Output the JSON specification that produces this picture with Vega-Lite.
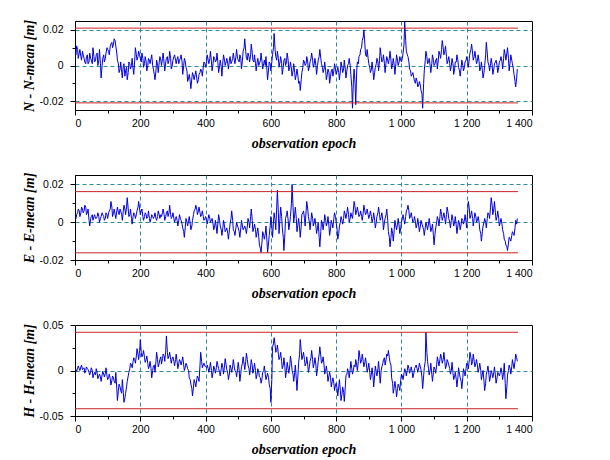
{
"$schema": "https://vega.github.io/schema/vega-lite/v6.json",
"background": "white",
"padding": {"left": 21, "top": 18, "right": 5, "bottom": 5},
"config": {
  "view": {"stroke": "black", "strokeWidth": 1},
  "axis": {"labelFont": "Liberation Sans", "labelFontSize": 10.5, "labelColor": "black", "titleFont": "Liberation Serif", "titleFontSize": 14, "titleFontStyle": "italic", "titleFontWeight": "bold", "titleColor": "black", "domainColor": "black", "tickColor": "black", "gridColor": "#2e8b9a", "gridDash": [4, 3], "gridWidth": 1}
},
"datasets": {
  "obs": [
{"t":0,"n":0.008,"e":0.001,"h":0.002},{"t":5,"n":0.011,"e":0.004,"h":-0.001},{"t":10,"n":0.004,"e":0.007,"h":0.005},{"t":15,"n":0.009,"e":0.003,"h":0.0},{"t":20,"n":0.003,"e":0.008,"h":0.006},{"t":25,"n":0.006,"e":0.005,"h":0.002},{"t":30,"n":0.002,"e":0.009,"h":-0.003},{"t":35,"n":0.005,"e":0.004,"h":0.004},{"t":40,"n":0.001,"e":0.007,"h":0.001},{"t":45,"n":0.007,"e":-0.002,"h":-0.005},
{"t":50,"n":0.003,"e":0.003,"h":0.003},{"t":55,"n":0.010,"e":0.001,"h":-0.008},{"t":60,"n":0.002,"e":0.004,"h":-0.002},{"t":65,"n":0.006,"e":0.002,"h":0.002},{"t":70,"n":0.0,"e":0.005,"h":-0.009},{"t":75,"n":0.009,"e":0.0,"h":-0.004},{"t":80,"n":-0.007,"e":0.003,"h":-0.012},{"t":85,"n":0.004,"e":0.004,"h":-0.001},{"t":90,"n":0.002,"e":0.001,"h":-0.007},{"t":95,"n":0.007,"e":0.005,"h":0.003},
{"t":100,"n":0.009,"e":0.002,"h":-0.010},{"t":105,"n":0.006,"e":0.006,"h":-0.004},{"t":110,"n":0.012,"e":0.011,"h":-0.016},{"t":115,"n":0.010,"e":0.003,"h":-0.006},{"t":120,"n":0.015,"e":0.007,"h":-0.012},{"t":125,"n":0.011,"e":0.002,"h":-0.002},{"t":130,"n":0.003,"e":0.008,"h":-0.033},{"t":135,"n":-0.004,"e":0.004,"h":-0.015},{"t":140,"n":0.002,"e":0.006,"h":-0.022},{"t":145,"n":-0.007,"e":0.001,"h":-0.010},
{"t":150,"n":0.001,"e":0.009,"h":-0.035},{"t":155,"n":-0.003,"e":0.004,"h":-0.025},{"t":160,"n":-0.008,"e":0.013,"h":-0.012},{"t":165,"n":0.002,"e":0.003,"h":-0.002},{"t":170,"n":-0.002,"e":0.007,"h":0.008},{"t":175,"n":0.004,"e":-0.001,"h":0.003},{"t":180,"n":-0.005,"e":0.005,"h":0.014},{"t":185,"n":0.010,"e":0.002,"h":0.008},{"t":190,"n":0.003,"e":0.006,"h":0.024},{"t":195,"n":0.008,"e":0.011,"h":0.012},
{"t":200,"n":0.004,"e":0.004,"h":0.034},{"t":205,"n":0.007,"e":0.007,"h":0.015},{"t":210,"n":-0.001,"e":0.001,"h":0.022},{"t":215,"n":0.005,"e":0.005,"h":0.009},{"t":220,"n":-0.003,"e":0.002,"h":0.016},{"t":225,"n":0.004,"e":0.006,"h":0.002},{"t":230,"n":0.001,"e":0.0,"h":0.010},{"t":235,"n":0.006,"e":0.004,"h":-0.008},{"t":240,"n":-0.002,"e":0.002,"h":0.005},{"t":245,"n":-0.008,"e":0.005,"h":-0.002},
{"t":250,"n":0.003,"e":0.001,"h":0.020},{"t":255,"n":-0.004,"e":0.006,"h":0.004},{"t":260,"n":0.005,"e":0.002,"h":0.012},{"t":265,"n":0.0,"e":0.003,"h":0.007},{"t":270,"n":0.007,"e":0.007,"h":0.018},{"t":275,"n":-0.003,"e":0.001,"h":0.010},{"t":280,"n":0.004,"e":0.005,"h":0.038},{"t":285,"n":0.001,"e":0.003,"h":0.013},{"t":290,"n":0.008,"e":0.009,"h":0.020},{"t":295,"n":-0.002,"e":0.002,"h":0.008},
{"t":300,"n":0.003,"e":0.005,"h":0.015},{"t":305,"n":0.006,"e":0.0,"h":0.005},{"t":310,"n":0.001,"e":0.003,"h":0.018},{"t":315,"n":0.005,"e":-0.002,"h":0.002},{"t":320,"n":0.003,"e":0.004,"h":0.012},{"t":325,"n":0.006,"e":0.001,"h":0.006},{"t":330,"n":-0.005,"e":-0.003,"h":0.015},{"t":335,"n":0.004,"e":-0.008,"h":0.0},{"t":340,"n":-0.001,"e":0.002,"h":0.008},{"t":345,"n":-0.009,"e":-0.002,"h":0.002},
{"t":350,"n":-0.005,"e":0.003,"h":-0.008},{"t":355,"n":-0.013,"e":-0.004,"h":-0.015},{"t":360,"n":-0.004,"e":0.001,"h":-0.028},{"t":365,"n":-0.008,"e":0.006,"h":-0.010},{"t":370,"n":-0.003,"e":0.009,"h":-0.018},{"t":375,"n":-0.010,"e":0.004,"h":-0.006},{"t":380,"n":-0.005,"e":0.008,"h":-0.012},{"t":385,"n":-0.002,"e":0.003,"h":0.020},{"t":390,"n":-0.006,"e":0.006,"h":0.003},{"t":395,"n":0.002,"e":0.001,"h":0.008},
{"t":400,"n":-0.001,"e":0.003,"h":0.004},{"t":405,"n":0.006,"e":-0.001,"h":0.006},{"t":410,"n":0.001,"e":0.004,"h":-0.002},{"t":415,"n":0.008,"e":0.0,"h":0.009},{"t":420,"n":-0.003,"e":0.002,"h":-0.008},{"t":425,"n":0.005,"e":-0.004,"h":0.005},{"t":430,"n":0.002,"e":0.001,"h":-0.003},{"t":435,"n":0.007,"e":-0.006,"h":0.010},{"t":440,"n":-0.004,"e":0.004,"h":0.002},{"t":445,"n":0.003,"e":-0.002,"h":-0.006},
{"t":450,"n":-0.006,"e":-0.007,"h":0.008},{"t":455,"n":0.006,"e":0.001,"h":-0.004},{"t":460,"n":0.0,"e":-0.005,"h":0.013},{"t":465,"n":0.004,"e":-0.003,"h":0.001},{"t":470,"n":-0.002,"e":-0.009,"h":-0.010},{"t":475,"n":0.005,"e":-0.001,"h":0.006},{"t":480,"n":0.002,"e":0.006,"h":-0.002},{"t":485,"n":0.007,"e":-0.004,"h":0.012},{"t":490,"n":0.001,"e":-0.007,"h":0.0},{"t":495,"n":0.009,"e":0.0,"h":-0.007},
{"t":500,"n":0.003,"e":-0.003,"h":0.009},{"t":505,"n":0.006,"e":-0.008,"h":-0.012},{"t":510,"n":-0.002,"e":0.001,"h":0.004},{"t":515,"n":0.008,"e":-0.004,"h":0.015},{"t":520,"n":0.015,"e":-0.002,"h":0.001},{"t":525,"n":0.004,"e":-0.006,"h":0.019},{"t":530,"n":0.007,"e":0.002,"h":0.006},{"t":535,"n":0.002,"e":-0.003,"h":-0.005},{"t":540,"n":0.012,"e":0.007,"h":0.012},{"t":545,"n":0.003,"e":-0.005,"h":-0.003},
{"t":550,"n":0.006,"e":-0.001,"h":0.008},{"t":555,"n":-0.003,"e":-0.008,"h":-0.009},{"t":560,"n":0.004,"e":-0.003,"h":0.002},{"t":565,"n":0.001,"e":-0.012,"h":-0.007},{"t":570,"n":0.007,"e":-0.016,"h":-0.014},{"t":575,"n":-0.002,"e":-0.005,"h":-0.002},{"t":580,"n":0.003,"e":-0.009,"h":0.005},{"t":585,"n":0.005,"e":-0.002,"h":-0.010},{"t":590,"n":-0.008,"e":-0.016,"h":-0.003},{"t":595,"n":0.002,"e":-0.007,"h":-0.015},
{"t":600,"n":-0.003,"e":0.003,"h":-0.035},{"t":605,"n":0.006,"e":-0.008,"h":0.025},{"t":610,"n":0.018,"e":0.005,"h":0.036},{"t":615,"n":0.005,"e":-0.004,"h":0.020},{"t":620,"n":0.008,"e":0.017,"h":0.028},{"t":625,"n":-0.001,"e":-0.006,"h":0.012},{"t":630,"n":0.005,"e":0.008,"h":0.020},{"t":635,"n":-0.005,"e":-0.003,"h":0.002},{"t":640,"n":0.003,"e":-0.015,"h":0.014},{"t":645,"n":0.0,"e":0.002,"h":-0.008},
{"t":650,"n":0.007,"e":0.006,"h":0.009},{"t":655,"n":-0.003,"e":-0.004,"h":-0.003},{"t":660,"n":0.002,"e":0.003,"h":0.016},{"t":665,"n":-0.006,"e":0.020,"h":0.0},{"t":670,"n":0.001,"e":0.0,"h":-0.012},{"t":675,"n":-0.008,"e":0.008,"h":0.006},{"t":680,"n":-0.002,"e":-0.005,"h":-0.022},{"t":685,"n":-0.010,"e":0.002,"h":0.008},{"t":690,"n":-0.014,"e":-0.008,"h":0.034},{"t":695,"n":-0.004,"e":0.004,"h":0.012},
{"t":700,"n":0.003,"e":0.006,"h":0.020},{"t":705,"n":0.0,"e":-0.002,"h":0.005},{"t":710,"n":0.005,"e":0.011,"h":0.015},{"t":715,"n":-0.003,"e":0.003,"h":-0.002},{"t":720,"n":0.002,"e":-0.004,"h":0.010},{"t":725,"n":0.007,"e":0.005,"h":0.022},{"t":730,"n":-0.001,"e":-0.002,"h":0.003},{"t":735,"n":0.004,"e":0.002,"h":0.014},{"t":740,"n":-0.005,"e":-0.006,"h":-0.006},{"t":745,"n":0.003,"e":0.0,"h":0.010},
{"t":750,"n":0.009,"e":-0.013,"h":0.026},{"t":755,"n":0.001,"e":0.001,"h":0.008},{"t":760,"n":-0.004,"e":-0.004,"h":0.015},{"t":765,"n":0.002,"e":0.004,"h":-0.004},{"t":770,"n":-0.008,"e":-0.002,"h":0.005},{"t":775,"n":-0.002,"e":0.003,"h":-0.012},{"t":780,"n":-0.010,"e":-0.007,"h":-0.002},{"t":785,"n":-0.003,"e":0.001,"h":-0.018},{"t":790,"n":-0.006,"e":-0.003,"h":-0.008},{"t":795,"n":0.001,"e":0.005,"h":-0.022},
{"t":800,"n":-0.005,"e":0.0,"h":-0.014},{"t":805,"n":-0.001,"e":-0.009,"h":-0.028},{"t":810,"n":-0.008,"e":-0.002,"h":-0.010},{"t":815,"n":0.002,"e":0.003,"h":-0.033},{"t":820,"n":-0.004,"e":-0.001,"h":-0.018},{"t":825,"n":0.003,"e":0.006,"h":-0.034},{"t":830,"n":-0.007,"e":0.002,"h":-0.006},{"t":835,"n":0.0,"e":0.008,"h":0.002},{"t":840,"n":0.004,"e":0.0,"h":-0.008},{"t":845,"n":-0.005,"e":0.005,"h":0.010},
{"t":850,"n":-0.024,"e":0.002,"h":-0.004},{"t":855,"n":-0.002,"e":0.011,"h":0.006},{"t":860,"n":-0.022,"e":0.004,"h":0.012},{"t":865,"n":0.002,"e":0.008,"h":0.0},{"t":870,"n":0.005,"e":0.003,"h":0.022},{"t":875,"n":0.009,"e":0.006,"h":0.008},{"t":880,"n":0.014,"e":0.001,"h":0.018},{"t":885,"n":0.020,"e":0.009,"h":0.004},{"t":890,"n":0.006,"e":0.004,"h":0.014},{"t":895,"n":0.009,"e":0.007,"h":-0.002},
{"t":900,"n":0.001,"e":0.002,"h":0.008},{"t":905,"n":-0.004,"e":0.006,"h":-0.010},{"t":910,"n":0.002,"e":0.0,"h":0.003},{"t":915,"n":-0.008,"e":0.005,"h":-0.018},{"t":920,"n":-0.001,"e":-0.003,"h":0.005},{"t":925,"n":0.004,"e":0.003,"h":-0.006},{"t":930,"n":-0.003,"e":0.008,"h":0.010},{"t":935,"n":0.010,"e":0.001,"h":-0.014},{"t":940,"n":0.002,"e":0.005,"h":0.004},{"t":945,"n":0.006,"e":-0.004,"h":0.012},
{"t":950,"n":-0.004,"e":0.002,"h":0.006},{"t":955,"n":0.005,"e":0.007,"h":0.018},{"t":960,"n":0.001,"e":-0.005,"h":0.022},{"t":965,"n":0.008,"e":-0.013,"h":0.009},{"t":970,"n":-0.002,"e":-0.003,"h":-0.008},{"t":975,"n":0.004,"e":-0.010,"h":-0.025},{"t":980,"n":-0.005,"e":0.001,"h":-0.012},{"t":985,"n":0.006,"e":-0.004,"h":-0.029},{"t":990,"n":0.0,"e":0.002,"h":-0.015},{"t":995,"n":0.005,"e":-0.006,"h":-0.022},
{"t":1000,"n":0.002,"e":0.0,"h":-0.004},{"t":1005,"n":0.007,"e":0.004,"h":-0.010},{"t":1010,"n":0.025,"e":-0.001,"h":0.002},{"t":1015,"n":0.008,"e":0.006,"h":-0.006},{"t":1020,"n":0.005,"e":0.009,"h":0.006},{"t":1025,"n":-0.002,"e":0.002,"h":-0.003},{"t":1030,"n":-0.006,"e":0.005,"h":0.004},{"t":1035,"n":-0.004,"e":0.0,"h":-0.008},{"t":1040,"n":-0.009,"e":0.003,"h":0.002},{"t":1045,"n":-0.007,"e":-0.003,"h":0.006},
{"t":1050,"n":-0.012,"e":0.002,"h":-0.002},{"t":1055,"n":-0.009,"e":-0.005,"h":0.008},{"t":1060,"n":-0.014,"e":0.001,"h":0.001},{"t":1065,"n":-0.024,"e":-0.002,"h":-0.020},{"t":1070,"n":-0.003,"e":-0.007,"h":0.003},{"t":1075,"n":0.008,"e":0.0,"h":0.042},{"t":1080,"n":0.001,"e":-0.004,"h":0.010},{"t":1085,"n":0.004,"e":0.002,"h":-0.005},{"t":1090,"n":-0.004,"e":-0.005,"h":0.008},{"t":1095,"n":0.006,"e":-0.001,"h":-0.012},
{"t":1100,"n":0.0,"e":-0.012,"h":0.004},{"t":1105,"n":0.003,"e":-0.003,"h":-0.003},{"t":1110,"n":-0.002,"e":0.003,"h":0.015},{"t":1115,"n":0.008,"e":-0.002,"h":0.005},{"t":1120,"n":0.004,"e":0.007,"h":0.018},{"t":1125,"n":0.014,"e":0.001,"h":0.008},{"t":1130,"n":0.006,"e":0.005,"h":0.020},{"t":1135,"n":0.011,"e":-0.001,"h":0.002},{"t":1140,"n":0.001,"e":0.008,"h":0.012},{"t":1145,"n":0.005,"e":0.002,"h":0.006},
{"t":1150,"n":-0.003,"e":-0.003,"h":-0.004},{"t":1155,"n":0.004,"e":0.004,"h":0.009},{"t":1160,"n":-0.005,"e":-0.002,"h":-0.010},{"t":1165,"n":0.002,"e":0.003,"h":-0.002},{"t":1170,"n":0.006,"e":-0.006,"h":-0.018},{"t":1175,"n":-0.001,"e":0.001,"h":0.003},{"t":1180,"n":-0.006,"e":-0.004,"h":-0.008},{"t":1185,"n":0.003,"e":0.002,"h":-0.020},{"t":1190,"n":-0.003,"e":-0.001,"h":0.002},{"t":1195,"n":0.002,"e":0.004,"h":-0.006},
{"t":1200,"n":0.005,"e":-0.003,"h":0.008},{"t":1205,"n":-0.001,"e":0.011,"h":0.002},{"t":1210,"n":0.007,"e":0.002,"h":0.020},{"t":1215,"n":0.012,"e":0.006,"h":0.006},{"t":1220,"n":0.003,"e":-0.002,"h":0.018},{"t":1225,"n":0.008,"e":0.005,"h":0.004},{"t":1230,"n":0.001,"e":0.0,"h":0.012},{"t":1235,"n":0.006,"e":0.003,"h":-0.002},{"t":1240,"n":-0.003,"e":-0.004,"h":0.008},{"t":1245,"n":0.002,"e":-0.010,"h":-0.010},
{"t":1250,"n":-0.007,"e":-0.002,"h":0.0},{"t":1255,"n":0.0,"e":0.002,"h":-0.022},{"t":1260,"n":0.013,"e":-0.003,"h":-0.004},{"t":1265,"n":0.002,"e":0.005,"h":0.005},{"t":1270,"n":-0.003,"e":0.002,"h":-0.012},{"t":1275,"n":0.004,"e":0.013,"h":0.0},{"t":1280,"n":-0.005,"e":0.004,"h":-0.008},{"t":1285,"n":0.001,"e":0.011,"h":0.004},{"t":1290,"n":0.003,"e":0.001,"h":-0.014},{"t":1295,"n":-0.004,"e":0.006,"h":-0.002},
{"t":1300,"n":0.002,"e":-0.002,"h":-0.006},{"t":1305,"n":0.005,"e":0.002,"h":0.003},{"t":1310,"n":-0.002,"e":-0.004,"h":-0.010},{"t":1315,"n":0.009,"e":-0.009,"h":0.008},{"t":1320,"n":0.003,"e":-0.012,"h":-0.031},{"t":1325,"n":0.010,"e":-0.015,"h":-0.005},{"t":1330,"n":-0.003,"e":-0.008,"h":0.006},{"t":1335,"n":0.006,"e":-0.010,"h":-0.004},{"t":1340,"n":0.001,"e":-0.005,"h":0.012},{"t":1345,"n":-0.005,"e":-0.007,"h":0.002},
{"t":1350,"n":-0.012,"e":0.001,"h":0.018},{"t":1355,"n":-0.002,"e":0.002,"h":0.010},
{"t":3,"n":0.006,"e":0.002,"h":0.001},{"t":8,"n":0.009,"e":0.005,"h":0.003},{"t":13,"n":0.007,"e":0.006,"h":0.002},{"t":18,"n":0.005,"e":0.005,"h":0.004},{"t":23,"n":0.008,"e":0.007,"h":0.001},{"t":28,"n":0.004,"e":0.006,"h":0.003},{"t":33,"n":0.001,"e":0.008,"h":0.0},{"t":38,"n":0.006,"e":0.005,"h":0.002},{"t":43,"n":0.002,"e":0.001,"h":-0.002},{"t":48,"n":0.004,"e":0.002,"h":-0.001},
{"t":53,"n":0.001,"e":0.004,"h":0.0},{"t":58,"n":0.005,"e":0.003,"h":-0.004},{"t":63,"n":0.003,"e":0.002,"h":-0.005},{"t":68,"n":0.007,"e":0.003,"h":-0.003},{"t":73,"n":0.003,"e":0.003,"h":-0.006},{"t":78,"n":0.001,"e":0.002,"h":-0.007},{"t":83,"n":0.0,"e":0.005,"h":-0.005},{"t":88,"n":0.006,"e":0.003,"h":-0.004},{"t":93,"n":0.004,"e":0.002,"h":-0.003},{"t":98,"n":0.010,"e":0.004,"h":-0.006},
{"t":103,"n":0.008,"e":0.005,"h":-0.008},{"t":108,"n":0.011,"e":0.007,"h":-0.009},{"t":113,"n":0.013,"e":0.008,"h":-0.011},{"t":118,"n":0.012,"e":0.005,"h":-0.008},{"t":123,"n":0.014,"e":0.004,"h":-0.014},{"t":128,"n":0.007,"e":0.006,"h":-0.020},{"t":133,"n":0.001,"e":0.005,"h":-0.022},{"t":138,"n":-0.002,"e":0.007,"h":-0.018},{"t":143,"n":-0.004,"e":0.004,"h":-0.025},{"t":148,"n":0.0,"e":0.006,"h":-0.024},
{"t":153,"n":-0.006,"e":0.007,"h":-0.030},{"t":158,"n":-0.001,"e":0.008,"h":-0.018},{"t":163,"n":-0.004,"e":0.007,"h":-0.006},{"t":168,"n":0.001,"e":0.004,"h":0.002},{"t":173,"n":0.0,"e":0.002,"h":0.006},{"t":178,"n":-0.002,"e":0.003,"h":0.010},{"t":183,"n":0.003,"e":0.004,"h":0.012},{"t":188,"n":0.006,"e":0.004,"h":0.016},{"t":193,"n":0.005,"e":0.008,"h":0.018},{"t":198,"n":0.006,"e":0.007,"h":0.022},
{"t":203,"n":0.002,"e":0.006,"h":0.020},{"t":208,"n":0.004,"e":0.003,"h":0.018},{"t":213,"n":0.001,"e":0.003,"h":0.014},{"t":218,"n":0.002,"e":0.004,"h":0.012},{"t":223,"n":0.0,"e":0.003,"h":0.008},{"t":228,"n":0.003,"e":0.002,"h":0.005},{"t":233,"n":0.004,"e":0.002,"h":0.002},{"t":238,"n":0.0,"e":0.003,"h":0.0},{"t":243,"n":-0.005,"e":0.003,"h":0.006},{"t":248,"n":-0.003,"e":0.002,"h":0.010},
{"t":253,"n":0.0,"e":0.003,"h":0.012},{"t":258,"n":0.002,"e":0.004,"h":0.008},{"t":263,"n":0.003,"e":0.004,"h":0.015},{"t":268,"n":0.004,"e":0.005,"h":0.013},{"t":273,"n":0.001,"e":0.004,"h":0.016},{"t":278,"n":0.002,"e":0.003,"h":0.022},{"t":283,"n":0.005,"e":0.006,"h":0.020},{"t":288,"n":0.003,"e":0.005,"h":0.016},{"t":293,"n":0.004,"e":0.004,"h":0.012},{"t":298,"n":0.0,"e":0.003,"h":0.014},
{"t":303,"n":0.005,"e":0.002,"h":0.010},{"t":308,"n":0.003,"e":0.002,"h":0.012},{"t":313,"n":0.004,"e":0.001,"h":0.009},{"t":318,"n":0.001,"e":0.001,"h":0.008},{"t":323,"n":0.004,"e":0.002,"h":0.010},{"t":328,"n":0.002,"e":-0.001,"h":0.011},{"t":333,"n":0.0,"e":-0.005,"h":0.006},{"t":338,"n":0.002,"e":-0.002,"h":0.004},{"t":343,"n":-0.003,"e":0.0,"h":0.005},{"t":348,"n":-0.007,"e":0.001,"h":0.0},
{"t":353,"n":-0.009,"e":-0.001,"h":-0.010},{"t":358,"n":-0.007,"e":-0.002,"h":-0.020},{"t":363,"n":-0.006,"e":0.004,"h":-0.018},{"t":368,"n":-0.005,"e":0.007,"h":-0.014},{"t":373,"n":-0.007,"e":0.007,"h":-0.010},{"t":378,"n":-0.008,"e":0.006,"h":-0.009},{"t":383,"n":-0.004,"e":0.005,"h":0.006},{"t":388,"n":-0.003,"e":0.004,"h":0.010},{"t":393,"n":-0.001,"e":0.003,"h":0.006},{"t":398,"n":0.001,"e":0.002,"h":0.005},
{"t":403,"n":0.002,"e":0.001,"h":0.003},{"t":408,"n":0.003,"e":0.002,"h":0.002},{"t":413,"n":0.004,"e":0.002,"h":0.004},{"t":418,"n":0.002,"e":0.001,"h":0.0},{"t":423,"n":0.001,"e":-0.001,"h":-0.002},{"t":428,"n":0.004,"e":-0.002,"h":0.001},{"t":433,"n":0.003,"e":-0.003,"h":0.003},{"t":438,"n":0.001,"e":0.0,"h":0.005},{"t":443,"n":0.0,"e":0.001,"h":-0.002},{"t":448,"n":-0.001,"e":-0.004,"h":0.002},
{"t":453,"n":0.002,"e":-0.003,"h":0.003},{"t":458,"n":0.003,"e":-0.002,"h":0.005},{"t":463,"n":0.002,"e":-0.004,"h":0.006},{"t":468,"n":0.001,"e":-0.006,"h":-0.003},{"t":473,"n":0.003,"e":-0.004,"h":-0.004},{"t":478,"n":0.001,"e":0.002,"h":0.002},{"t":483,"n":0.004,"e":0.001,"h":0.005},{"t":488,"n":0.003,"e":-0.005,"h":0.004},{"t":493,"n":0.005,"e":-0.003,"h":-0.002},{"t":498,"n":0.004,"e":-0.002,"h":0.002},
{"t":503,"n":0.002,"e":-0.005,"h":0.0},{"t":508,"n":0.004,"e":-0.003,"h":-0.003},{"t":513,"n":0.003,"e":-0.002,"h":0.008},{"t":518,"n":0.010,"e":-0.003,"h":0.007},{"t":523,"n":0.008,"e":-0.004,"h":0.010},{"t":528,"n":0.003,"e":-0.002,"h":0.012},{"t":533,"n":0.005,"e":0.0,"h":0.002},{"t":538,"n":0.006,"e":0.003,"h":0.004},{"t":543,"n":0.007,"e":0.001,"h":0.005},{"t":548,"n":0.002,"e":-0.003,"h":0.002},
{"t":553,"n":0.001,"e":-0.004,"h":0.0},{"t":558,"n":0.002,"e":-0.005,"h":-0.004},{"t":563,"n":0.0,"e":-0.008,"h":-0.002},{"t":568,"n":0.003,"e":-0.014,"h":-0.008},{"t":573,"n":0.002,"e":-0.010,"h":-0.009},{"t":578,"n":0.001,"e":-0.007,"h":0.0},{"t":583,"n":0.0,"e":-0.006,"h":-0.004},{"t":588,"n":-0.003,"e":-0.010,"h":-0.006},{"t":593,"n":-0.002,"e":-0.011,"h":-0.008},{"t":598,"n":0.001,"e":-0.002,"h":-0.020},
{"t":603,"n":0.002,"e":-0.002,"h":-0.010},{"t":608,"n":0.010,"e":0.0,"h":0.030},{"t":613,"n":0.009,"e":0.001,"h":0.028},{"t":618,"n":0.003,"e":0.008,"h":0.022},{"t":623,"n":0.004,"e":0.005,"h":0.018},{"t":628,"n":0.002,"e":0.002,"h":0.015},{"t":633,"n":0.001,"e":0.003,"h":0.010},{"t":638,"n":-0.001,"e":-0.008,"h":0.006},{"t":643,"n":0.004,"e":-0.006,"h":0.004},{"t":648,"n":0.002,"e":0.004,"h":0.0},
{"t":653,"n":0.003,"e":0.001,"h":0.002},{"t":658,"n":-0.001,"e":0.0,"h":0.005},{"t":663,"n":-0.002,"e":0.010,"h":0.008},{"t":668,"n":-0.003,"e":0.008,"h":-0.004},{"t":673,"n":-0.004,"e":0.004,"h":-0.002},{"t":678,"n":-0.005,"e":0.002,"h":-0.010},{"t":683,"n":-0.006,"e":-0.001,"h":-0.005},{"t":688,"n":-0.009,"e":-0.003,"h":0.018},{"t":693,"n":-0.008,"e":-0.002,"h":0.022},{"t":698,"n":-0.001,"e":0.005,"h":0.016},
{"t":703,"n":0.002,"e":0.002,"h":0.012},{"t":708,"n":0.001,"e":0.006,"h":0.008},{"t":713,"n":0.002,"e":0.007,"h":0.006},{"t":718,"n":-0.001,"e":0.0,"h":0.004},{"t":723,"n":0.004,"e":0.001,"h":0.014},{"t":728,"n":0.003,"e":0.002,"h":0.012},{"t":733,"n":0.001,"e":0.0,"h":0.008},{"t":738,"n":0.0,"e":-0.002,"h":0.006},{"t":743,"n":0.0,"e":-0.003,"h":0.002},{"t":748,"n":0.005,"e":-0.008,"h":0.018},
{"t":753,"n":0.004,"e":-0.005,"h":0.016},{"t":758,"n":-0.001,"e":-0.001,"h":0.010},{"t":763,"n":-0.002,"e":0.0,"h":0.006},{"t":768,"n":-0.003,"e":0.001,"h":0.0},{"t":773,"n":-0.005,"e":0.0,"h":-0.004},{"t":778,"n":-0.004,"e":-0.002,"h":-0.006},{"t":783,"n":-0.006,"e":-0.003,"h":-0.008},{"t":788,"n":-0.002,"e":-0.001,"h":-0.012},{"t":793,"n":-0.003,"e":0.002,"h":-0.014},{"t":798,"n":-0.002,"e":0.003,"h":-0.016},
{"t":803,"n":-0.003,"e":-0.004,"h":-0.020},{"t":808,"n":-0.004,"e":-0.006,"h":-0.018},{"t":813,"n":-0.003,"e":0.0,"h":-0.022},{"t":818,"n":-0.001,"e":0.001,"h":-0.026},{"t":823,"n":-0.002,"e":0.002,"h":-0.024},{"t":828,"n":-0.002,"e":0.004,"h":-0.018},{"t":833,"n":-0.003,"e":0.005,"h":-0.004},{"t":838,"n":0.001,"e":0.004,"h":-0.002},{"t":843,"n":0.0,"e":0.002,"h":0.001},{"t":848,"n":-0.012,"e":0.003,"h":0.002},
{"t":853,"n":-0.008,"e":0.007,"h":0.0},{"t":858,"n":-0.010,"e":0.008,"h":0.004},{"t":863,"n":-0.003,"e":0.006,"h":0.006},{"t":868,"n":0.001,"e":0.005,"h":0.010},{"t":873,"n":0.006,"e":0.004,"h":0.014},{"t":878,"n":0.010,"e":0.003,"h":0.012},{"t":883,"n":0.016,"e":0.005,"h":0.010},{"t":888,"n":0.012,"e":0.006,"h":0.009},{"t":893,"n":0.005,"e":0.005,"h":0.006},{"t":898,"n":0.004,"e":0.004,"h":0.003},
{"t":903,"n":-0.001,"e":0.004,"h":-0.002},{"t":908,"n":-0.002,"e":0.003,"h":-0.004},{"t":913,"n":-0.003,"e":0.002,"h":-0.006},{"t":918,"n":-0.004,"e":0.001,"h":-0.005},{"t":923,"n":0.001,"e":0.0,"h":-0.002},{"t":928,"n":0.002,"e":0.005,"h":0.002},{"t":933,"n":0.003,"e":0.004,"h":-0.004},{"t":938,"n":0.005,"e":0.003,"h":0.0},{"t":943,"n":0.003,"e":0.001,"h":0.008},{"t":948,"n":0.001,"e":0.0,"h":0.014},
{"t":953,"n":0.002,"e":0.004,"h":0.012},{"t":958,"n":0.003,"e":0.001,"h":0.016},{"t":963,"n":0.004,"e":-0.008,"h":0.014},{"t":968,"n":0.003,"e":-0.008,"h":0.006},{"t":973,"n":0.001,"e":-0.006,"h":-0.014},{"t":978,"n":0.0,"e":-0.004,"h":-0.018},{"t":983,"n":0.001,"e":-0.002,"h":-0.020},{"t":988,"n":0.003,"e":-0.001,"h":-0.020},{"t":993,"n":0.002,"e":-0.002,"h":-0.018},{"t":998,"n":0.003,"e":-0.003,"h":-0.010},
{"t":1003,"n":0.004,"e":0.002,"h":-0.006},{"t":1008,"n":0.012,"e":0.001,"h":-0.003},{"t":1013,"n":0.014,"e":0.003,"h":-0.001},{"t":1018,"n":0.006,"e":0.007,"h":0.0},{"t":1023,"n":0.002,"e":0.006,"h":0.002},{"t":1028,"n":-0.003,"e":0.003,"h":0.0},{"t":1033,"n":-0.005,"e":0.002,"h":-0.002},{"t":1038,"n":-0.007,"e":0.001,"h":-0.003},{"t":1043,"n":-0.010,"e":0.0,"h":0.004},{"t":1048,"n":-0.009,"e":-0.001,"h":0.002},
{"t":1053,"n":-0.011,"e":-0.002,"h":0.003},{"t":1058,"n":-0.011,"e":-0.002,"h":0.004},{"t":1063,"n":-0.016,"e":-0.001,"h":-0.008},{"t":1068,"n":-0.010,"e":-0.004,"h":-0.006},{"t":1073,"n":0.003,"e":-0.003,"h":0.010},{"t":1078,"n":0.005,"e":-0.002,"h":0.020},{"t":1083,"n":0.002,"e":-0.001,"h":0.002},{"t":1088,"n":0.0,"e":-0.002,"h":0.0},{"t":1093,"n":0.001,"e":-0.003,"h":-0.004},{"t":1098,"n":0.003,"e":-0.007,"h":-0.002},
{"t":1103,"n":0.001,"e":-0.006,"h":0.001},{"t":1108,"n":0.004,"e":0.0,"h":0.006},{"t":1113,"n":0.003,"e":0.001,"h":0.010},{"t":1118,"n":0.006,"e":0.003,"h":0.012},{"t":1123,"n":0.009,"e":0.004,"h":0.014},{"t":1128,"n":0.010,"e":0.003,"h":0.012},{"t":1133,"n":0.008,"e":0.002,"h":0.010},{"t":1138,"n":0.005,"e":0.004,"h":0.006},{"t":1143,"n":0.003,"e":0.005,"h":0.009},{"t":1148,"n":0.001,"e":0.0,"h":0.002},
{"t":1153,"n":0.0,"e":0.001,"h":0.0},{"t":1158,"n":0.001,"e":0.001,"h":-0.003},{"t":1163,"n":-0.002,"e":0.0,"h":-0.006},{"t":1168,"n":0.002,"e":-0.002,"h":-0.010},{"t":1173,"n":0.003,"e":-0.002,"h":-0.008},{"t":1178,"n":-0.003,"e":-0.001,"h":-0.004},{"t":1183,"n":-0.001,"e":-0.001,"h":-0.012},{"t":1188,"n":0.0,"e":0.001,"h":-0.008},{"t":1193,"n":-0.001,"e":0.001,"h":-0.002},{"t":1198,"n":0.003,"e":0.0,"h":0.002},
{"t":1203,"n":0.002,"e":0.006,"h":0.006},{"t":1208,"n":0.004,"e":0.007,"h":0.012},{"t":1213,"n":0.009,"e":0.004,"h":0.014},{"t":1218,"n":0.007,"e":0.002,"h":0.010},{"t":1223,"n":0.005,"e":0.002,"h":0.010},{"t":1228,"n":0.004,"e":0.003,"h":0.008},{"t":1233,"n":0.003,"e":0.001,"h":0.005},{"t":1238,"n":0.002,"e":0.0,"h":0.003},{"t":1243,"n":-0.001,"e":-0.006,"h":0.0},{"t":1248,"n":-0.003,"e":-0.005,"h":-0.004},
{"t":1253,"n":-0.004,"e":0.0,"h":-0.012},{"t":1258,"n":0.006,"e":0.0,"h":-0.014},{"t":1263,"n":0.007,"e":0.002,"h":0.0},{"t":1268,"n":0.0,"e":0.004,"h":-0.004},{"t":1273,"n":0.001,"e":0.008,"h":-0.006},{"t":1278,"n":0.0,"e":0.009,"h":-0.004},{"t":1283,"n":-0.002,"e":0.007,"h":-0.002},{"t":1288,"n":0.002,"e":0.005,"h":-0.006},{"t":1293,"n":0.0,"e":0.003,"h":-0.008},{"t":1298,"n":-0.001,"e":0.002,"h":-0.004},
{"t":1303,"n":0.003,"e":0.0,"h":-0.002},{"t":1308,"n":0.002,"e":-0.001,"h":-0.003},{"t":1313,"n":0.004,"e":-0.006,"h":-0.002},{"t":1318,"n":0.006,"e":-0.010,"h":-0.014},{"t":1323,"n":0.007,"e":-0.013,"h":-0.018},{"t":1328,"n":0.004,"e":-0.011,"h":0.0},{"t":1333,"n":0.002,"e":-0.009,"h":0.002},{"t":1338,"n":0.003,"e":-0.007,"h":0.004},{"t":1343,"n":-0.002,"e":-0.006,"h":0.006},{"t":1348,"n":-0.009,"e":-0.003,"h":0.010},
{"t":1353,"n":-0.007,"e":-0.001,"h":0.014}
  ],
  "limN": [{"x0": 0, "x1": 1357, "y": 0.021}, {"x0": 0, "x1": 1357, "y": -0.021}],
  "limE": [{"x0": 0, "x1": 1357, "y": 0.0162}, {"x0": 0, "x1": 1357, "y": -0.0162}],
  "limH": [{"x0": 0, "x1": 1357, "y": 0.042}, {"x0": 0, "x1": 1357, "y": -0.042}]
},
"spacing": 65,
"bounds": "flush",
"vconcat": [
  {
    "width": 457, "height": 89,
    "layer": [
      {
        "data": {"name": "obs"},
        "mark": {"type": "line", "color": "#0000e0", "strokeWidth": 1, "clip": true},
        "encoding": {
          "x": {"field": "t", "type": "quantitative", "scale": {"domain": [0, 1400], "nice": false},
            "axis": {"values": [0, 200, 400, 600, 800, 1000, 1200, 1400], "title": "observation epoch", "labelExpr": "replace(format(datum.value, ','), ',', ' ')", "tickSize": 5, "labelPadding": 3, "titlePadding": 8, "grid": true, "gridOpacity": {"condition": {"test": "datum.value > 0 && datum.value < 1400", "value": 1}, "value": 0}}},
          "y": {"field": "n", "type": "quantitative", "scale": {"domain": [-0.025, 0.025], "nice": false, "zero": false},
            "axis": {"values": [-0.02, 0, 0.02], "title": "N - N-mean [m]", "labelExpr": "datum.value < 0 ? '-' + format(-datum.value, '.2~f') : format(datum.value, '.2~f')", "tickSize": 5, "labelPadding": 7, "titlePadding": 3, "grid": true}}
        }
      },
      {
        "data": {"name": "limN"},
        "mark": {"type": "rule", "color": "#cc2222", "strokeWidth": 1},
        "encoding": {
          "x": {"field": "x0", "type": "quantitative", "axis": {"orient": "bottom", "values": [100, 300, 500, 700, 900, 1100, 1300], "labels": false, "domain": false, "grid": false, "tickSize": 3, "title": null}},
          "x2": {"field": "x1"},
          "y": {"field": "y", "type": "quantitative", "axis": {"orient": "left", "values": [-0.01, 0.01], "labels": false, "domain": false, "grid": false, "tickSize": 3, "title": null}}
        }
      }
    ],
    "resolve": {"axis": {"x": "independent", "y": "independent"}}
  },
  {
    "width": 457, "height": 85,
    "layer": [
      {
        "data": {"name": "obs"},
        "mark": {"type": "line", "color": "#0000e0", "strokeWidth": 1, "clip": true},
        "encoding": {
          "x": {"field": "t", "type": "quantitative", "scale": {"domain": [0, 1400], "nice": false},
            "axis": {"values": [0, 200, 400, 600, 800, 1000, 1200, 1400], "title": "observation epoch", "labelExpr": "replace(format(datum.value, ','), ',', ' ')", "tickSize": 5, "labelPadding": 3, "titlePadding": 8, "grid": true, "gridOpacity": {"condition": {"test": "datum.value > 0 && datum.value < 1400", "value": 1}, "value": 0}}},
          "y": {"field": "e", "type": "quantitative", "scale": {"domain": [-0.02, 0.025], "nice": false, "zero": false},
            "axis": {"values": [-0.02, 0, 0.02], "title": "E - E-mean [m]", "labelExpr": "datum.value < 0 ? '-' + format(-datum.value, '.2~f') : format(datum.value, '.2~f')", "tickSize": 5, "labelPadding": 7, "titlePadding": 3, "grid": true, "gridOpacity": {"condition": {"test": "datum.value > -0.019", "value": 1}, "value": 0}}}
        }
      },
      {
        "data": {"name": "limE"},
        "mark": {"type": "rule", "color": "#cc2222", "strokeWidth": 1},
        "encoding": {
          "x": {"field": "x0", "type": "quantitative", "axis": {"orient": "bottom", "values": [100, 300, 500, 700, 900, 1100, 1300], "labels": false, "domain": false, "grid": false, "tickSize": 3, "title": null}},
          "x2": {"field": "x1"},
          "y": {"field": "y", "type": "quantitative", "axis": {"orient": "left", "values": [-0.01, 0.01], "labels": false, "domain": false, "grid": false, "tickSize": 3, "title": null}}
        }
      }
    ],
    "resolve": {"axis": {"x": "independent", "y": "independent"}}
  },
  {
    "width": 457, "height": 91,
    "layer": [
      {
        "data": {"name": "obs"},
        "mark": {"type": "line", "color": "#0000e0", "strokeWidth": 1, "clip": true},
        "encoding": {
          "x": {"field": "t", "type": "quantitative", "scale": {"domain": [0, 1400], "nice": false},
            "axis": {"values": [0, 200, 400, 600, 800, 1000, 1200, 1400], "title": "observation epoch", "labelExpr": "replace(format(datum.value, ','), ',', ' ')", "tickSize": 5, "labelPadding": 3, "titlePadding": 8, "grid": true, "gridOpacity": {"condition": {"test": "datum.value > 0 && datum.value < 1400", "value": 1}, "value": 0}}},
          "y": {"field": "h", "type": "quantitative", "scale": {"domain": [-0.05, 0.05], "nice": false, "zero": false},
            "axis": {"values": [-0.05, 0, 0.05], "title": "H - H-mean [m]", "labelExpr": "datum.value < 0 ? '-' + format(-datum.value, '.2~f') : format(datum.value, '.2~f')", "tickSize": 5, "labelPadding": 7, "titlePadding": 3, "grid": true, "gridOpacity": {"condition": {"test": "abs(datum.value) < 0.04", "value": 1}, "value": 0}}}
        }
      },
      {
        "data": {"name": "limH"},
        "mark": {"type": "rule", "color": "#cc2222", "strokeWidth": 1},
        "encoding": {
          "x": {"field": "x0", "type": "quantitative", "axis": {"orient": "bottom", "values": [100, 300, 500, 700, 900, 1100, 1300], "labels": false, "domain": false, "grid": false, "tickSize": 3, "title": null}},
          "x2": {"field": "x1"},
          "y": {"field": "y", "type": "quantitative", "axis": {"orient": "left", "values": [-0.025, 0.025], "labels": false, "domain": false, "grid": false, "tickSize": 3, "title": null}}
        }
      }
    ],
    "resolve": {"axis": {"x": "independent", "y": "independent"}}
  }
]
}
